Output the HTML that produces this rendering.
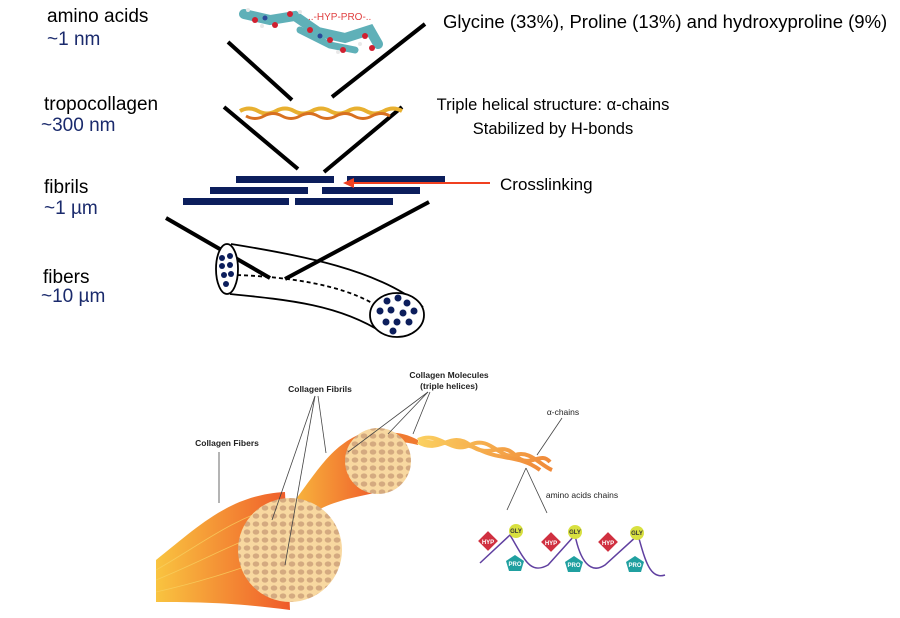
<!DOCTYPE html>
<html><head><meta charset="utf-8"><style>
html,body{margin:0;padding:0;background:#fff;}
svg{display:block;font-family:"Liberation Sans",sans-serif;}
</style></head><body>
<svg width="900" height="618" viewBox="0 0 900 618">
<defs>
<linearGradient id="fib" x1="0" x2="1" y1="0" y2="0"><stop offset="0" stop-color="#f9c440"/><stop offset="1" stop-color="#ef5a2a"/></linearGradient>
<linearGradient id="hel" x1="0" x2="1"><stop offset="0" stop-color="#fbd060"/><stop offset="1" stop-color="#f08a3a"/></linearGradient>
<pattern id="dots" width="9" height="8" patternUnits="userSpaceOnUse"><rect width="9" height="8" fill="#f8d8a0"/><ellipse cx="4" cy="4" rx="3.3" ry="2.6" fill="#d4aa80"/></pattern>
</defs>
<g font-size="19">
<text x="47" y="22" fill="#000">amino acids</text>
<text x="47" y="45" fill="#1a2a6c">~1 nm</text>
<text x="44" y="110" fill="#000">tropocollagen</text>
<text x="41" y="131" fill="#1a2a6c">~300 nm</text>
<text x="44" y="193" fill="#000">fibrils</text>
<text x="44" y="214" fill="#1a2a6c">~1 µm</text>
<text x="43" y="283" fill="#000">fibers</text>
<text x="41" y="302" fill="#1a2a6c">~10 µm</text>
</g>
<g fill="#000">
<text x="443" y="28" font-size="18.5">Glycine (33%), Proline (13%) and hydroxyproline (9%)</text>
<text x="553" y="110" font-size="16.5" text-anchor="middle">Triple helical structure: α-chains</text>
<text x="553" y="134" font-size="16.5" text-anchor="middle">Stabilized by H-bonds</text>
<text x="500" y="190" font-size="17">Crosslinking</text>
</g>
<!-- molecule -->
<g>
<path d="M244 14 L270 20 L295 16 L318 32 L345 38 L370 30 L378 44" stroke="#5fb0b8" stroke-width="10" fill="none" stroke-linecap="round"/>
<path d="M300 30 L330 45 L355 50" stroke="#5fb0b8" stroke-width="7" fill="none" stroke-linecap="round"/>
<g fill="#e8e8e8"><circle cx="248" cy="10" r="2"/><circle cx="262" cy="26" r="2"/><circle cx="300" cy="12" r="2"/><circle cx="338" cy="52" r="2"/><circle cx="360" cy="44" r="2"/></g>
<g fill="#d02030"><circle cx="255" cy="20" r="3"/><circle cx="275" cy="25" r="3"/><circle cx="290" cy="14" r="3"/><circle cx="310" cy="30" r="3"/><circle cx="330" cy="40" r="3"/><circle cx="343" cy="50" r="3"/><circle cx="365" cy="36" r="3"/><circle cx="372" cy="48" r="3"/></g>
<g fill="#2a4a9a"><circle cx="265" cy="18" r="2.5"/><circle cx="320" cy="36" r="2.5"/></g>
<text x="308" y="20" font-size="10" fill="#e04040">..-HYP-PRO-..</text>
</g>
<g stroke="#000" stroke-width="4" fill="none">
<line x1="228" y1="42" x2="292" y2="100"/><line x1="425" y1="24" x2="332" y2="97"/>
<line x1="224" y1="107" x2="298" y2="169"/><line x1="402" y1="107" x2="324" y2="172"/>
<line x1="166" y1="218" x2="270" y2="278"/><line x1="429" y1="202" x2="285" y2="279"/>
</g>
<path d="M240 111 q9 -5 18 0 t18 0 t18 0 t18 0 t18 0 t18 0 t18 0 t18 0 t18 0" stroke="#e8b030" stroke-width="4" fill="none"/>
<path d="M246 116 q9 5 18 0 t18 0 t18 0 t18 0 t18 0 t18 0 t18 0 t18 0" stroke="#d87020" stroke-width="3" fill="none"/>
<g fill="#0c1e5c">
<rect x="236" y="176" width="98" height="7"/><rect x="347" y="176" width="98" height="7"/>
<rect x="210" y="187" width="98" height="7"/><rect x="322" y="187" width="98" height="7"/>
<rect x="183" y="198" width="106" height="7"/><rect x="295" y="198" width="98" height="7"/>
</g>
<line x1="490" y1="183" x2="352" y2="183" stroke="#f04020" stroke-width="2"/>
<polygon points="343,183 354,178 354,188" fill="#f04020"/>
<g stroke="#000" stroke-width="1.8" fill="none">
<path d="M231 244 C300 255 380 270 423 307"/>
<path d="M230 294 C290 300 340 305 383 333"/>
<path d="M237 275 C290 277 340 285 372 303" stroke-dasharray="4 3"/>
<ellipse cx="227" cy="269" rx="11" ry="25" fill="#fff"/>
<ellipse cx="397" cy="315" rx="27" ry="22" fill="#fff"/>
</g>
<g fill="#0c1e5c">
<circle cx="222" cy="258" r="3"/><circle cx="230" cy="256" r="3"/><circle cx="222" cy="266" r="3"/><circle cx="230" cy="265" r="3"/><circle cx="224" cy="275" r="3"/><circle cx="231" cy="274" r="3"/><circle cx="226" cy="284" r="3"/>
<circle cx="387" cy="301" r="3.5"/><circle cx="398" cy="298" r="3.5"/><circle cx="407" cy="303" r="3.5"/><circle cx="380" cy="311" r="3.5"/><circle cx="391" cy="310" r="3.5"/><circle cx="403" cy="313" r="3.5"/><circle cx="414" cy="311" r="3.5"/><circle cx="386" cy="322" r="3.5"/><circle cx="397" cy="322" r="3.5"/><circle cx="409" cy="322" r="3.5"/><circle cx="393" cy="331" r="3.5"/>
</g>
<!-- bottom illustration -->
<path d="M156 560 C200 525 230 495 285 492 L290 610 C230 602 190 602 156 602 Z" fill="url(#fib)"/>
<g stroke="#f8d060" stroke-width="0.8" fill="none" opacity="0.8">
<path d="M156 570 C200 545 230 520 280 505"/><path d="M156 580 C200 562 230 545 270 530"/><path d="M156 592 C200 582 230 572 265 560"/>
</g>
<path d="M280 520 C320 470 330 440 378 428 L380 492 C340 500 310 505 285 540 Z" fill="url(#fib)"/>
<circle cx="290" cy="550" r="52" fill="url(#dots)"/>
<path d="M355 440 C380 430 400 430 418 440 L418 445 C400 440 380 442 360 448 Z" fill="#f07a30"/>
<circle cx="378" cy="461" r="33" fill="url(#dots)"/>
<g stroke="url(#hel)" stroke-width="4" fill="none">
<path d="M418 440 C440 430 450 455 470 445 S500 460 515 455 S540 465 552 470"/>
<path d="M418 442 C440 455 450 430 470 445 S500 440 515 455 S540 450 550 462"/>
<path d="M420 441 C445 445 460 440 480 450 S520 455 540 470"/>
</g>
<g stroke="#444" stroke-width="0.8" fill="none">
<line x1="219" y1="452" x2="219" y2="503"/>
<line x1="315" y1="396" x2="272" y2="520"/><line x1="315" y1="396" x2="285" y2="565"/><line x1="318" y1="396" x2="326" y2="453"/>
<line x1="428" y1="392" x2="348" y2="452"/><line x1="428" y1="392" x2="388" y2="434"/><line x1="430" y1="392" x2="413" y2="434"/>
<line x1="562" y1="418" x2="537" y2="455"/>
<line x1="526" y1="468" x2="507" y2="510"/><line x1="526" y1="468" x2="547" y2="513"/>
</g>
<g font-size="8.5" fill="#222" font-weight="bold">
<text x="320" y="392" text-anchor="middle">Collagen Fibrils</text>
<text x="449" y="378" text-anchor="middle">Collagen Molecules</text>
<text x="449" y="389" text-anchor="middle">(triple helices)</text>
<text x="563" y="415" text-anchor="middle" font-weight="normal">α-chains</text>
<text x="227" y="446" text-anchor="middle">Collagen Fibers</text>
<text x="582" y="498" text-anchor="middle" font-weight="normal">amino acids chains</text>
</g>
<path d="M480 563 L510 535 C525 560 530 575 548 565 L575 535 C580 560 590 575 605 565 L638 535 C645 560 650 580 665 575" stroke="#6040a0" stroke-width="1.5" fill="none"/>
<g font-size="6" fill="#fff" text-anchor="middle" font-weight="bold">
<rect x="481" y="534" width="14" height="14" fill="#d03040" transform="rotate(45 488 541)"/><text x="488" y="544">HYP</text>
<rect x="544" y="535" width="14" height="14" fill="#d03040" transform="rotate(45 551 542)"/><text x="551" y="545">HYP</text>
<rect x="601" y="535" width="14" height="14" fill="#d03040" transform="rotate(45 608 542)"/><text x="608" y="545">HYP</text>
<circle cx="516" cy="531" r="7" fill="#d8e040"/><text x="516" y="533" fill="#333">GLY</text>
<circle cx="575" cy="532" r="7" fill="#d8e040"/><text x="575" y="534" fill="#333">GLY</text>
<circle cx="637" cy="533" r="7" fill="#d8e040"/><text x="637" y="535" fill="#333">GLY</text>
<polygon points="515,555 524,561 521,571 509,571 506,561" fill="#20a0a0"/><text x="515" y="566">PRO</text>
<polygon points="574,556 583,562 580,572 568,572 565,562" fill="#20a0a0"/><text x="574" y="567">PRO</text>
<polygon points="635,556 644,562 641,572 629,572 626,562" fill="#20a0a0"/><text x="635" y="567">PRO</text>
</g>
</svg>
</body></html>
